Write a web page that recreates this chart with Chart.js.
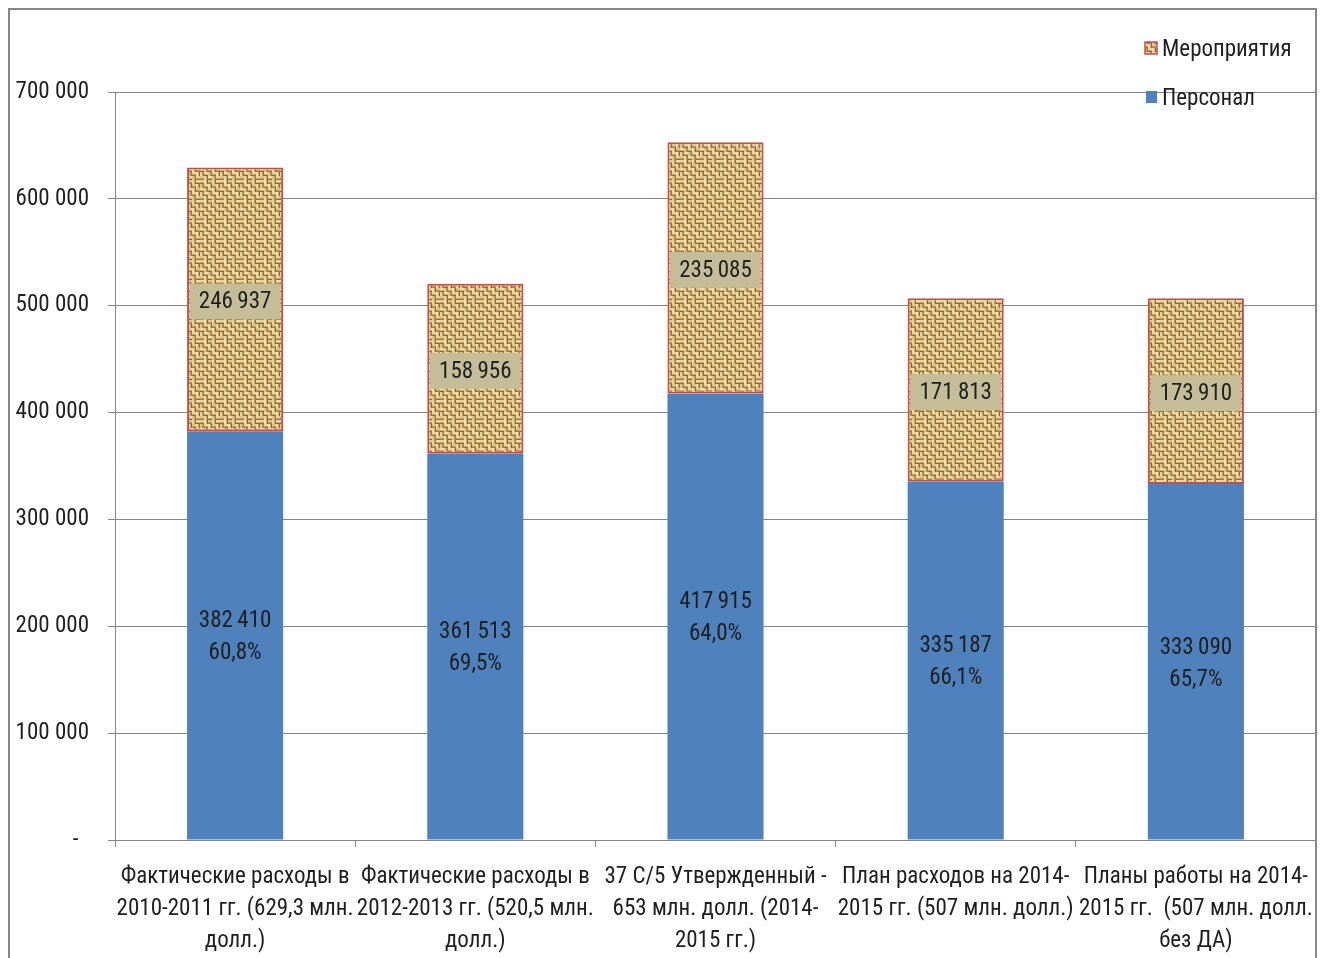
<!DOCTYPE html>
<html><head><meta charset="utf-8">
<script src="https://cdn.jsdelivr.net/npm/chart.js@4/dist/chart.umd.min.js"></script>
<style>html,body{margin:0;padding:0;background:#fff}#wrap{width:1326px;height:958px}</style>
</head><body><div id="wrap"><canvas id="c" width="1326" height="958"></canvas></div>
<script>
const categories = [
  ["Фактические расходы в", "2010-2011 гг. (629,3 млн.", "долл.)"],
  ["Фактические расходы в", "2012-2013 гг. (520,5 млн.", "долл.)"],
  ["37 C/5 Утвержденный -", "653 млн. долл. (2014-", "2015 гг.)"],
  ["План расходов на 2014-", "2015 гг. (507 млн. долл.)"],
  ["Планы работы на 2014-", "2015 гг.  (507 млн. долл.", "без ДА)"]
];
const personnel = [382410, 361513, 417915, 335187, 333090];
const activities = [246937, 158956, 235085, 171813, 173910];
const personnelShare = ["60,8%", "69,5%", "64,0%", "66,1%", "65,7%"];
const yTicks = [0, 100000, 200000, 300000, 400000, 500000, 600000, 700000];
const seriesNames = ["Персонал", "Мероприятия"];

const FONT = '"Liberation Sans Narrow", "Arial Narrow", "Roboto Condensed", "Noto Sans", sans-serif';
const FS = 23;
const fmt = v => String(v).replace(/\B(?=(\d{3})+(?!\d))/g, '\u2009');
const fmtTick = v => String(v).replace(/\B(?=(\d{3})+(?!\d))/g, ' ');

function makeBurlap() {
  const N = 5, S = 4;
  const c = document.createElement('canvas');
  c.width = N * S; c.height = N * S;
  const g = c.getContext('2d');
  g.fillStyle = '#a8874f'; g.fillRect(0, 0, N * S, N * S);
  const lights = ['#e8d49c', '#dcc48a', '#efdcaa'];
  const mids = ['#c6a66a', '#bc9a5e', '#cfb27a'];
  const darks = ['#94703c', '#a17d48', '#8a6634'];
  for (let i = 0; i < N; i++) for (let j = 0; j < N; j++) {
    const x = i * S, y = j * S, k = (i * 2 + j) % 3;
    if ((i + j) % 2 === 0) {
      g.fillStyle = lights[k]; g.fillRect(x, y, S, 2);
      g.fillStyle = mids[k]; g.fillRect(x, y + 2, S, 1);
      g.fillStyle = darks[k]; g.fillRect(x, y + 3, S, 1);
    } else {
      g.fillStyle = lights[k]; g.fillRect(x, y, 2, S);
      g.fillStyle = mids[k]; g.fillRect(x + 2, y, 1, S);
      g.fillStyle = darks[k]; g.fillRect(x + 3, y, 1, S);
    }
  }
  return g.createPattern(c, 'repeat');
}
const burlap = makeBurlap();

const frame = {
  id: 'frame',
  beforeDraw(chart) {
    const ctx = chart.ctx;
    ctx.save();
    ctx.fillStyle = '#fff'; ctx.fillRect(0, 0, chart.width, chart.height);
    ctx.strokeStyle = '#878787'; ctx.lineWidth = 2;
    ctx.strokeRect(9, 9, 1307, 1000);
    ctx.restore();
  }
};

const labels = {
  id: 'labels',
  afterDatasetsDraw(chart) {
    const ctx = chart.ctx;
    ctx.save();
    ctx.font = FS + 'px ' + FONT;
    ctx.textAlign = 'center';
    ctx.textBaseline = 'middle';
    const m0 = chart.getDatasetMeta(0), m1 = chart.getDatasetMeta(1);
    m0.data.forEach((el, i) => {
      const cy = (el.y + el.base) / 2 + 2;
      ctx.fillStyle = '#1f1f1f';
      ctx.fillText(fmt(personnel[i]), el.x, cy - 16);
      ctx.fillText(personnelShare[i], el.x, cy + 16);
    });
    m1.data.forEach((el, i) => {
      const cy = (el.y + el.base) / 2 + 2;
      const t = fmt(activities[i]);
      const w = ctx.measureText(t).width + 18;
      ctx.fillStyle = '#c4bd97';
      ctx.fillRect(el.x - w / 2, cy - 18, w, 36);
      ctx.fillStyle = '#1f1f1f';
      ctx.fillText(t, el.x, cy + 1);
    });
    // legend
    ctx.textAlign = 'left';
    ctx.fillStyle = burlap; ctx.fillRect(1145, 42, 12, 12);
    ctx.strokeStyle = '#c0504d'; ctx.lineWidth = 1.5; ctx.strokeRect(1145, 42, 12, 12);
    ctx.fillStyle = '#1f1f1f'; ctx.fillText(seriesNames[1], 1162, 50);
    ctx.fillStyle = '#4f81bd'; ctx.fillRect(1146, 91, 11, 12);
    ctx.fillStyle = '#1f1f1f'; ctx.fillText(seriesNames[0], 1162, 99);
    ctx.restore();
  }
};

new Chart(document.getElementById('c'), {
  type: 'bar',
  data: {
    labels: categories,
    datasets: [
      { label: seriesNames[0], data: personnel, backgroundColor: '#4f81bd', borderWidth: 0 },
      { label: seriesNames[1], data: activities, backgroundColor: burlap, borderColor: '#c0504d', borderWidth: 2, borderSkipped: false }
    ]
  },
  options: {
    responsive: false,
    animation: false,
    events: [],
    layout: { padding: { top: 92, right: 10, left: 0, bottom: 0 } },
    datasets: { bar: { categoryPercentage: 1, barPercentage: 0.4 } },
    plugins: { legend: { display: false }, tooltip: { enabled: false } },
    scales: {
      x: {
        stacked: true,
        afterFit(s) { s.height = 118; s.paddingLeft = 0; s.paddingRight = 0; },
        grid: { drawOnChartArea: false, drawTicks: true, tickLength: 7, color: '#868686', offset: true },
        border: { color: '#868686', width: 1 },
        ticks: { color: '#1f1f1f', font: { family: FONT, size: FS, lineHeight: 1.4 }, padding: 14, maxRotation: 0, autoSkip: false }
      },
      y: {
        stacked: true,
        min: 0, max: 700000,
        afterFit(s) { s.width = 115; s.paddingTop = 0; s.paddingBottom = 0; },
        afterBuildTicks(s) { s.ticks = yTicks.map(v => ({ value: v })); },
        grid: { color: '#868686', tickLength: 7, lineWidth: 1 },
        border: { color: '#868686', width: 1 },
        ticks: { color: '#1f1f1f', font: { family: FONT, size: FS }, padding: 19,
          callback: v => v === 0 ? '-  ' : fmtTick(v) }
      }
    }
  },
  plugins: [frame, labels]
});
</script></body></html>
